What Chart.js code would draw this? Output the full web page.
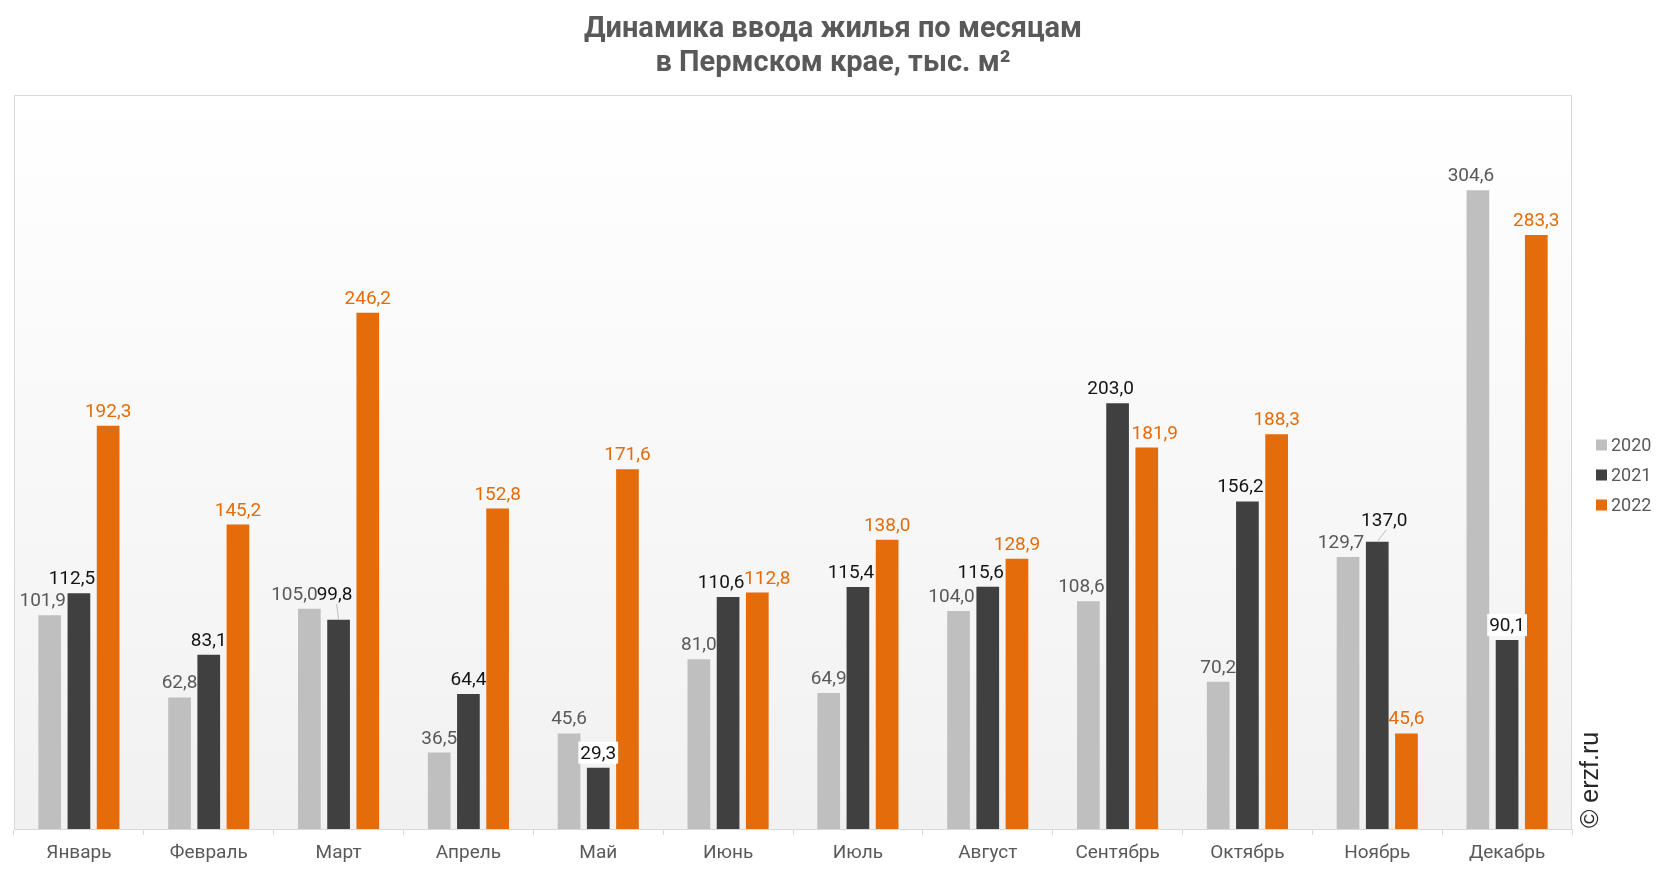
<!DOCTYPE html>
<html>
<head>
<meta charset="utf-8">
<script src="https://cdn.jsdelivr.net/npm/chart.js@4.4.1/dist/chart.umd.min.js"></script>
<style>
  html, body { margin: 0; padding: 0; background: #ffffff; }
  #wrap { width: 1666px; height: 872px; position: relative; }
</style>
</head>
<body>
<div id="wrap"><canvas id="c" width="1666" height="872"></canvas></div>
<script>
// ---- data ----
const categories = ['Январь','Февраль','Март','Апрель','Май','Июнь','Июль','Август','Сентябрь','Октябрь','Ноябрь','Декабрь'];
const seriesNames = ['2020','2021','2022'];
const values2020 = [101.9, 62.8, 105.0, 36.5, 45.6, 81.0, 64.9, 104.0, 108.6, 70.2, 129.7, 304.6];
const values2021 = [112.5, 83.1, 99.8, 64.4, 29.3, 110.6, 115.4, 115.6, 203.0, 156.2, 137.0, 90.1];
const values2022 = [192.3, 145.2, 246.2, 152.8, 171.6, 112.8, 138.0, 128.9, 181.9, 188.3, 45.6, 283.3];
const titleLines = ['Динамика ввода жилья по месяцам', 'в Пермском крае, тыс. м²'];
const watermark = '© erzf.ru';

// ---- styles ----
const barColors = ['#bfbfbf', '#404040', '#e46c0a'];
const labelColors = ['#595959', '#141414', '#e46c0a'];
// manual label nudges (style only), key = datasetIndex-pointIndex
const labelTweaks = {
  '0-2': { dx: -15, dy: 0 },
  '1-2': { dx: -4, dy: -11, leader: true },
  '2-5': { dx: 10 },
  '2-8': { dx: 8 },
  '1-10': { dx: 7, dy: -7, leader: true },
  '1-4': { bg: true },
  '1-11': { bg: true }
};

const fmt = v => v.toFixed(1).replace('.', ',');

const bgPlugin = {
  id: 'plotBg',
  beforeDraw(chart) {
    const { ctx, chartArea: a } = chart;
    const g = ctx.createLinearGradient(0, a.top, 0, a.bottom);
    g.addColorStop(0, '#ffffff');
    g.addColorStop(1, '#f1f1f1');
    ctx.save();
    ctx.fillStyle = g;
    ctx.fillRect(a.left, a.top, a.right - a.left, a.bottom - a.top);
    ctx.strokeStyle = '#d9d9d9';
    ctx.lineWidth = 1;
    ctx.beginPath();
    ctx.moveTo(a.left + 0.5, a.bottom);
    ctx.lineTo(a.left + 0.5, a.top + 0.5);
    ctx.lineTo(a.right - 0.5, a.top + 0.5);
    ctx.lineTo(a.right - 0.5, a.bottom);
    ctx.stroke();
    ctx.restore();
  }
};

const labelPlugin = {
  id: 'valueLabels',
  afterDatasetsDraw(chart) {
    const { ctx } = chart;
    ctx.save();
    ctx.font = '19px Roboto';
    ctx.textAlign = 'center';
    ctx.textBaseline = 'alphabetic';
    chart.data.datasets.forEach((ds, di) => {
      const meta = chart.getDatasetMeta(di);
      meta.data.forEach((el, i) => {
        const v = ds.data[i];
        const t = labelTweaks[di + '-' + i] || {};
        let dx = (di < 2 && v >= 100) ? -7 : 0;
        if (t.dx !== undefined) dx = t.dx;
        const dy = t.dy || 0;
        const x = el.x + dx;
        const y = el.y - 9 + dy;
        const txt = fmt(v);
        const w = ctx.measureText(txt).width;
        if (t.bg) {
          ctx.fillStyle = '#ffffff';
          ctx.fillRect(x - w / 2 - 2, y - 17, w + 4, 22);
        }
        if (t.leader) {
          ctx.strokeStyle = '#bfbfbf';
          ctx.lineWidth = 1;
          ctx.beginPath();
          ctx.moveTo(x + 2, y + 4);
          ctx.lineTo(el.x, el.y);
          ctx.stroke();
        }
        ctx.fillStyle = labelColors[di];
        ctx.fillText(txt, x, y);
      });
    });
    ctx.restore();
  }
};

const decorPlugin = {
  id: 'decor',
  afterDraw(chart) {
    const { ctx, chartArea: a } = chart;
    ctx.save();
    // title
    ctx.fillStyle = '#595959';
    ctx.font = 'bold 29px Roboto';
    ctx.textAlign = 'center';
    ctx.textBaseline = 'alphabetic';
    ctx.fillText(titleLines[0], 833, 37);
    ctx.fillText(titleLines[1], 833, 71);
    // legend
    ctx.font = '18px Roboto';
    ctx.textAlign = 'left';
    ctx.textBaseline = 'middle';
    chart.data.datasets.forEach((ds, i) => {
      const cy = 445 + i * 30;
      ctx.fillStyle = ds.backgroundColor;
      ctx.fillRect(a.right + 24, cy - 5.5, 11, 11);
      ctx.fillStyle = '#595959';
      ctx.fillText(ds.label, a.right + 39, cy + 1);
    });
    // watermark
    ctx.translate(1598, 828);
    ctx.rotate(-Math.PI / 2);
    ctx.font = '25px "Liberation Sans"';
    ctx.fillStyle = '#262626';
    ctx.textAlign = 'left';
    ctx.textBaseline = 'alphabetic';
    ctx.fillText(watermark, 0, 0);
    ctx.restore();
  }
};

new Chart(document.getElementById('c'), {
  type: 'bar',
  data: {
    labels: categories,
    datasets: [
      { label: seriesNames[0], data: values2020, backgroundColor: barColors[0] },
      { label: seriesNames[1], data: values2021, backgroundColor: barColors[1] },
      { label: seriesNames[2], data: values2022, backgroundColor: barColors[2] }
    ]
  },
  options: {
    responsive: false,
    animation: false,
    devicePixelRatio: 1,
    datasets: { bar: { categoryPercentage: 0.675, barPercentage: 0.777 } },
    layout: { padding: { left: 14, right: 94, top: 95, bottom: 0 } },
    plugins: { legend: { display: false }, title: { display: false }, tooltip: { enabled: false } },
    scales: {
      x: {
        grid: { display: true, drawOnChartArea: false, drawTicks: true, tickLength: 6, color: '#d9d9d9', offset: true },
        border: { display: true, color: '#d9d9d9', width: 1 },
        ticks: { color: '#595959', font: { family: 'Roboto', size: 19, lineHeight: 1.1 }, padding: 8, maxRotation: 0, autoSkip: false }
      },
      y: { display: false, min: 0, max: 350 }
    }
  },
  plugins: [bgPlugin, labelPlugin, decorPlugin]
});
</script>
</body>
</html>
